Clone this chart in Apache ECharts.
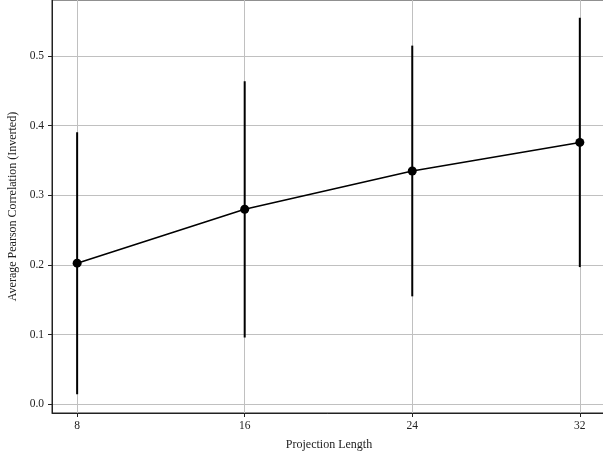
<!DOCTYPE html>
<html>
<head>
<meta charset="utf-8">
<script src="https://cdn.jsdelivr.net/npm/echarts@6/dist/echarts.min.js"></script>
<style>
  html, body { margin: 0; padding: 0; background: #fff; }
  #chart { width: 603px; height: 457px; }
</style>
</head>
<body>
<div id="chart"></div>
<script>
// 数据
const lengths = [8, 16, 24, 32];
const means = [0.2026, 0.280, 0.335, 0.376];
const errs = [0.188, 0.184, 0.180, 0.179];
const xTicks = [8, 16, 24, 32];
const yTicks = [0, 0.1, 0.2, 0.3, 0.4, 0.5];

const chart = echarts.init(document.getElementById('chart'));

const lineData = lengths.map((x, i) => [x, means[i]]);
const errData = lengths.map((x, i) => [x, means[i] - errs[i], means[i] + errs[i]]);

const font = 'Liberation Serif';

const option = {
    animation: false,
    grid: {
        left: 52, right: -3, top: 0, bottom: 44,
        containLabel: false,
        outerBoundsMode: 'none',
        show: true, borderColor: '#222', borderWidth: 1
    },
    xAxis: {
        type: 'value',
        min: 6.8, max: 33.25,
        name: 'Projection Length',
        nameLocation: 'middle',
        nameGap: 26,
        nameTextStyle: { fontFamily: font, fontSize: 12, color: '#222' },
        axisLine: { show: true, onZero: false, lineStyle: { color: '#222', width: 1 } },
        axisTick: { show: true, customValues: xTicks, length: 4, lineStyle: { color: '#222' } },
        axisLabel: { customValues: xTicks, fontFamily: font, fontSize: 11.5, color: '#222', margin: 7 },
        splitLine: { show: true, customValues: xTicks, lineStyle: { color: '#c0c0c0', width: 1 } }
    },
    yAxis: {
        type: 'value',
        min: -0.0125, max: 0.5805,
        name: 'Average Pearson Correlation (Inverted)',
        nameLocation: 'middle',
        nameGap: 29,
        nameTextStyle: { fontFamily: font, fontSize: 12, color: '#222' },
        axisLine: { show: true, onZero: false, lineStyle: { color: '#222', width: 1 } },
        axisTick: { show: true, customValues: yTicks, length: 4, lineStyle: { color: '#222' } },
        axisLabel: {
            customValues: yTicks, fontFamily: font, fontSize: 11.5, color: '#222', margin: 8,
            formatter: v => v.toFixed(1)
        },
        splitLine: { show: true, customValues: yTicks, lineStyle: { color: '#c0c0c0', width: 1 } }
    },
    series: [
        {
            // 误差线
            type: 'custom',
            data: errData,
            z: 3,
            renderItem: function (params, api) {
                const lo = api.coord([api.value(0), api.value(1)]);
                const hi = api.coord([api.value(0), api.value(2)]);
                return {
                    type: 'line',
                    shape: { x1: lo[0], y1: lo[1], x2: hi[0], y2: hi[1] },
                    style: { stroke: '#000', lineWidth: 2 }
                };
            }
        },
        {
            type: 'line',
            data: lineData,
            z: 4,
            symbol: 'circle',
            symbolSize: 9,
            itemStyle: { color: '#000' },
            lineStyle: { color: '#000', width: 1.6 }
        }
    ]
};

chart.setOption(option);
</script>
</body>
</html>
